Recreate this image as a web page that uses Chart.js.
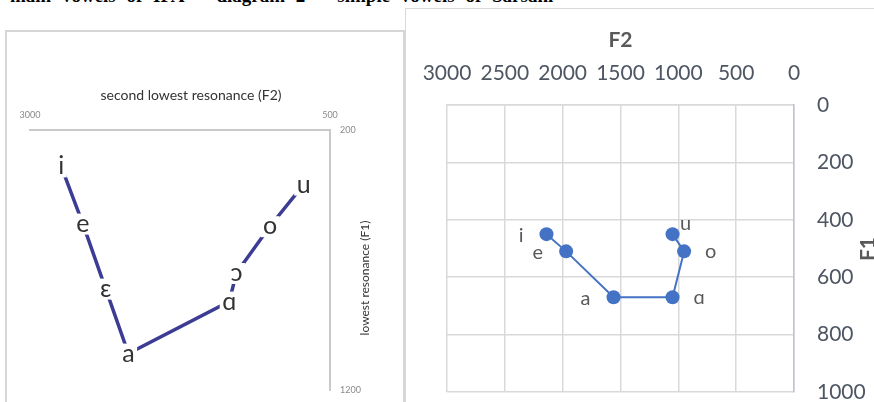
<!DOCTYPE html>
<html>
<head>
<meta charset="utf-8">
<script src="https://cdn.jsdelivr.net/npm/chart.js@4.4.1/dist/chart.umd.min.js"></script>
<style>
  html, body { margin:0; padding:0; background:#fff; width:874px; height:402px; overflow:hidden; }
  body { position:relative; }
  #caption { position:absolute; left:10px; top:-13px; font:bold 19px "Liberation Serif", serif; line-height:18px; white-space:pre; word-spacing:6px; color:#000; }
  #leftBox { position:absolute; left:5px; top:30px; width:396px; height:380px; border:2px solid #d6d6d6; }
  #rightBox { position:absolute; left:405px; top:8px; width:480px; height:400px; border-top:1px solid #d9d9d9; border-left:1px solid #d9d9d9; }
  canvas { position:absolute; }
  #chartIpa { left:7px; top:32px; }
  #chartSar { left:406px; top:9px; }
</style>
</head>
<body>
<div id="caption">main vowels of IPA"  diagram 2  "simple vowels of Sarsahi"</div>
<div id="leftBox"></div>
<div id="rightBox"></div>
<canvas id="chartIpa" width="396" height="370"></canvas>
<canvas id="chartSar" width="468" height="393"></canvas>
<script>
// left: IPA reference diagram
const ipaVowels = ['i', 'e', 'ɛ', 'a', 'ɑ', 'ɔ', 'o', 'u'];
const ipaF2 = [2740, 2560, 2370, 2180, 1340, 1280, 1000, 720];
const ipaF1 = [340, 560, 810, 1060, 860, 750, 570, 410];
const ipaF2Ticks = [3000, 500];
const ipaF1Ticks = [200, 1200];

// right: Sarsahi vowels
const sarVowels = ['i', 'e', 'a', 'ɑ', 'o', 'u'];
const sarF2 = [2140, 1970, 1560, 1050, 950, 1050];
const sarF1 = [450, 510, 670, 670, 510, 450];

const sarLabelSide = ['left', 'left', 'left', 'right', 'right', 'above'];

const plain = v => String(v);

// chart.js adds tick padding to the scale's end padding; drop it so the plot area stays put
function fixHeight(h) {
  return s => { s.height = h; s.paddingLeft = 0; s.paddingRight = 0; };
}
function fixWidth(w) {
  return s => { s.width = w; s.paddingTop = 0; s.paddingBottom = 0; };
}

const ipaDecor = {
  id: 'ipaDecor',
  afterDatasetsDraw(chart) {
    const ctx = chart.ctx;
    const meta = chart.getDatasetMeta(0);
    ctx.save();
    ctx.font = '25px Lato';
    ctx.textAlign = 'center';
    ctx.textBaseline = 'middle';
    meta.data.forEach((pt, i) => {
      const w = ctx.measureText(ipaVowels[i]).width + 5;
      ctx.fillStyle = '#fff';
      ctx.fillRect(pt.x - w / 2, pt.y - 10, w, 21);
      ctx.fillStyle = '#333';
      ctx.fillText(ipaVowels[i], pt.x, pt.y);
    });
    ctx.fillStyle = '#333';
    ctx.font = '14px Lato';
    ctx.fillText('second lowest resonance (F2)', 184, 63);
    ctx.translate(358, 246);
    ctx.rotate(-Math.PI / 2);
    ctx.font = '12px Lato';
    ctx.fillText('lowest resonance (F1)', 0, 0);
    ctx.restore();
  }
};

new Chart(document.getElementById('chartIpa'), {
  type: 'scatter',
  data: {
    datasets: [{
      data: ipaF2.map((x, i) => ({ x: x, y: ipaF1[i] })),
      showLine: true,
      borderColor: '#3c3c94',
      borderWidth: 3.5,
      pointRadius: 0
    }]
  },
  options: {
    responsive: false,
    devicePixelRatio: 1,
    animation: false,
    layout: { padding: { left: 23, right: 0, top: 0, bottom: 12 } },
    plugins: { legend: { display: false }, tooltip: { enabled: false } },
    scales: {
      x: {
        type: 'linear', position: 'top', reverse: true, min: 500, max: 3000,
        afterBuildTicks: s => { s.ticks = ipaF2Ticks.map(v => ({ value: v })); },
        afterFit: fixHeight(98),
        grid: { display: false, drawTicks: false },
        border: { display: true, color: '#c9c9c9', width: 2 },
        ticks: { padding: 10, color: '#8a8a8a', font: { family: 'Lato', size: 9 }, maxRotation: 0, callback: plain }
      },
      y: {
        type: 'linear', position: 'right', reverse: true, min: 200, max: 1200,
        afterBuildTicks: s => { s.ticks = ipaF1Ticks.map(v => ({ value: v })); },
        afterFit: fixWidth(73),
        grid: { display: false, drawTicks: false },
        border: { display: true, color: '#c9c9c9', width: 2 },
        ticks: { padding: 10, color: '#8a8a8a', font: { family: 'Lato', size: 9 }, callback: plain }
      }
    }
  },
  plugins: [ipaDecor]
});

const sarDecor = {
  id: 'sarDecor',
  afterDatasetsDraw(chart) {
    const ctx = chart.ctx;
    const meta = chart.getDatasetMeta(0);
    ctx.save();
    ctx.font = '20px Lato';
    ctx.fillStyle = '#595959';
    ctx.textBaseline = 'middle';
    meta.data.forEach((pt, i) => {
      const side = sarLabelSide[i];
      if (side === 'left') {
        ctx.textAlign = 'right';
        ctx.fillText(sarVowels[i], pt.x - 23, pt.y + 1);
      } else if (side === 'right') {
        ctx.textAlign = 'left';
        ctx.fillText(sarVowels[i], pt.x + 21, pt.y);
      } else {
        ctx.textAlign = 'center';
        ctx.fillText(sarVowels[i], pt.x + 13, pt.y - 11);
      }
    });
    ctx.translate(462, 240);
    ctx.rotate(-Math.PI / 2);
    ctx.textAlign = 'center';
    ctx.font = 'bold 21px Lato';
    ctx.fillText('F1', 0, 0);
    ctx.restore();
  }
};

new Chart(document.getElementById('chartSar'), {
  type: 'scatter',
  data: {
    datasets: [{
      data: sarF2.map((x, i) => ({ x: x, y: sarF1[i] })),
      showLine: true,
      borderColor: '#4472c4',
      borderWidth: 2,
      pointRadius: 7,
      pointBackgroundColor: '#4472c4',
      pointBorderColor: '#4472c4',
      pointBorderWidth: 0
    }]
  },
  options: {
    responsive: false,
    devicePixelRatio: 1,
    animation: false,
    layout: { padding: { left: 41, right: 0, top: 0, bottom: 10 } },
    plugins: { legend: { display: false }, tooltip: { enabled: false } },
    scales: {
      x: {
        type: 'linear', position: 'top', reverse: true, min: 0, max: 3000,
        afterFit: fixHeight(96),
        grid: { color: '#d9d9d9', lineWidth: 1.5, drawTicks: false },
        border: { display: true, color: '#d9d9d9', width: 1.5 },
        title: { display: true, text: 'F2', color: '#595959', font: { family: 'Lato', size: 21, weight: 'bold' }, padding: { top: 19, bottom: 0 } },
        ticks: { stepSize: 500, padding: 19, color: '#4e5663', font: { family: 'Lato', size: 21 }, maxRotation: 0, callback: plain }
      },
      y: {
        type: 'linear', position: 'right', reverse: true, min: 0, max: 1000,
        afterFit: fixWidth(80),
        grid: { color: '#d9d9d9', lineWidth: 1.5, drawTicks: false },
        border: { display: true, color: '#b9c3d6', width: 1.5 },
        ticks: { stepSize: 200, padding: 23, color: '#4e5663', font: { family: 'Lato', size: 21 }, callback: plain }
      }
    }
  },
  plugins: [sarDecor]
});
</script>
</body>
</html>
